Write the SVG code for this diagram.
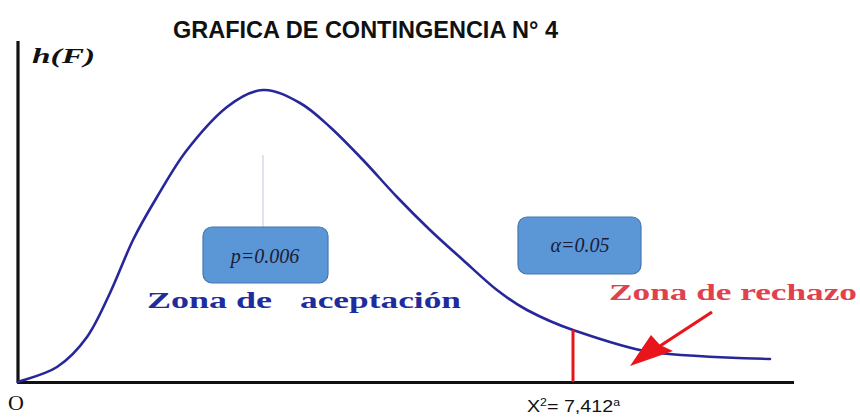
<svg xmlns="http://www.w3.org/2000/svg" width="860" height="420" viewBox="0 0 860 420">
<style>
.title{font-family:"Liberation Sans","Open Sans",sans-serif;font-weight:bold;font-size:24px;fill:#111}
.axislab{font-family:"Liberation Serif",serif;font-weight:bold;font-style:italic;font-size:22px;fill:#111}
.zone{font-family:"Liberation Serif",serif;font-weight:bold;font-size:24px}
.box{fill:#5b96d6;stroke:#4677ad;stroke-width:1.2}
.boxtxt{font-family:"Liberation Serif",serif;font-style:italic;font-size:20px;fill:#1b1b33;text-anchor:middle}
.axis{stroke:#111;stroke-width:3.2;fill:none}
.curve{stroke:#27279a;stroke-width:2.6;fill:none;stroke-linecap:round}
.red{stroke:#e8161b;fill:none}
</style>
<rect width="860" height="420" fill="#ffffff"/>
<text class="title" x="173" y="38" textLength="385" lengthAdjust="spacingAndGlyphs">GRAFICA DE CONTINGENCIA N° 4</text>
<g id="axes">
<line class="axis" x1="18" y1="41" x2="18" y2="383"/>
<line class="axis" x1="17" y1="382.5" x2="794" y2="382.5"/>
<text class="axislab" x="32" y="63" textLength="63" lengthAdjust="spacingAndGlyphs">h(F)</text>
<text x="8" y="410" font-family="Liberation Serif,serif" font-size="22" fill="#111">O</text>
</g>
<g id="connectors">
<line x1="263" y1="155" x2="263" y2="227" stroke="#c9d0e2" stroke-width="1.2"/>
<path class="curve" d="M18,382 C24.5,379.5 45.5,374.5 57,367 C68.5,359.5 78.2,349.3 87,337 C95.8,324.7 102.3,309.2 110,293 C117.7,276.8 125.2,256 133,240 C140.8,224 148,212 157,197 C166,182 175.3,165 187,150 C198.7,135 214.3,117 227,107 C239.7,97 250.8,90.7 263,90 C275.2,89.3 288.8,96.8 300,103 C311.2,109.2 319.5,117.5 330,127 C340.5,136.5 351.8,148.3 363,160 C374.2,171.7 385.8,185.3 397,197 C408.2,208.7 419,219.5 430,230 C441,240.5 451.8,250 463,260 C474.2,270 486.3,281.7 497,290 C507.7,298.3 514.3,303.3 527,310 C539.7,316.7 552.5,323 573,330 C593.5,337 625,348 650,352 C680,356 720,357.5 770,359"/>
<line class="red" x1="573" y1="330" x2="573" y2="382" stroke-width="3"/>
<line class="red" x1="712" y1="312" x2="660" y2="346" stroke-width="3.2"/>
<polygon points="630,366 651,335 660,345 673,351" fill="#e8161b"/>
</g>
<g id="node-p">
<rect class="box" x="203" y="227" width="125" height="56" rx="9"/>
<text class="boxtxt" x="265" y="263">p=0.006</text>
</g>
<g id="node-alpha">
<rect class="box" x="518" y="217" width="123" height="57" rx="9"/>
<text class="boxtxt" x="580" y="252">α=0.05</text>
</g>
<g id="label-aceptacion">
<text class="zone" fill="#1f2d9c" x="147" y="308" textLength="125" lengthAdjust="spacingAndGlyphs">Zona de</text>
<text class="zone" fill="#1f2d9c" x="300" y="308" textLength="161" lengthAdjust="spacingAndGlyphs">aceptación</text>
</g>
<g id="label-rechazo">
<text class="zone" fill="#e0424d" x="609" y="300" textLength="248" lengthAdjust="spacingAndGlyphs">Zona de rechazo</text>
</g>
<g id="label-x2">
<text x="527" y="412" font-family="Liberation Sans,sans-serif" font-size="16" fill="#111" textLength="93" lengthAdjust="spacingAndGlyphs">X<tspan dy="-6" font-size="10">2</tspan><tspan dy="6">= 7,412</tspan><tspan dy="-6" font-size="10">a</tspan></text>
</g>
</svg>
